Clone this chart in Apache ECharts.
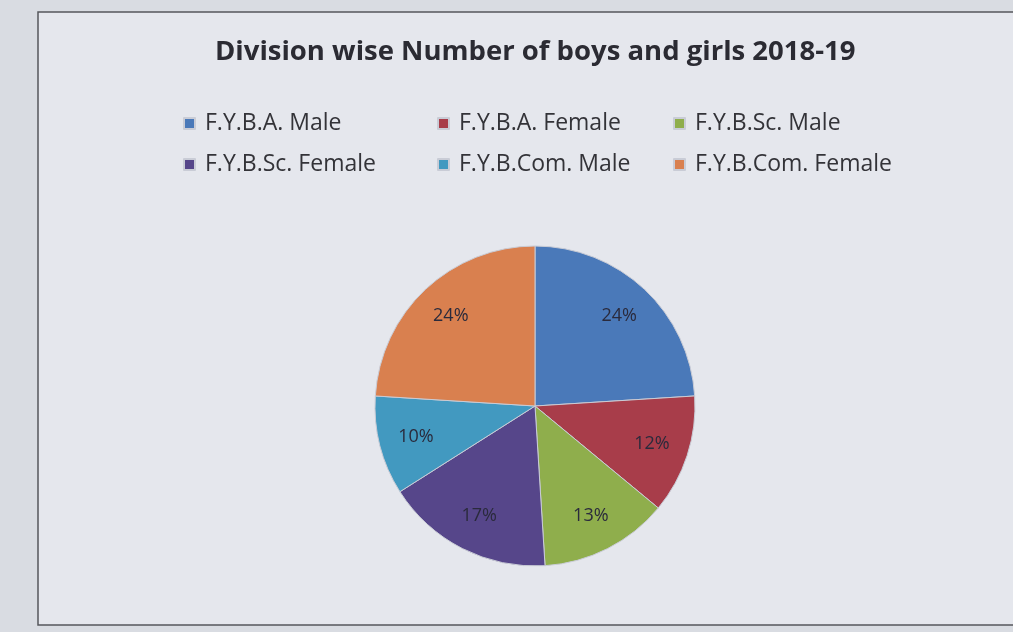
<!DOCTYPE html>
<html>
<head>
<meta charset="utf-8">
<script src="https://cdn.jsdelivr.net/npm/echarts@6/dist/echarts.min.js"></script>
<style>
  html, body { margin: 0; padding: 0; background: #d9dce2; }
  #chart { width: 1013px; height: 632px; }
</style>
</head>
<body>
<div id="chart"></div>
<script>
const categories = ['F.Y.B.A. Male', 'F.Y.B.A. Female', 'F.Y.B.Sc. Male',
  'F.Y.B.Sc. Female', 'F.Y.B.Com. Male', 'F.Y.B.Com. Female'];
const shares = [24, 12, 13, 17, 10, 24];
const colors = ['#4a79b9', '#a83d4a', '#8fae4c', '#56468a', '#4299c0', '#d9804f'];

document.addEventListener("DOMContentLoaded", () => {
  const font = 'Open Sans';
  const legendCol = (names, left) => ({
    orient: 'vertical',
    left: left,
    top: 107,
    itemGap: 18,
    itemWidth: 11,
    itemHeight: 11,
    icon: 'rect',
    data: names,
    textStyle: { fontFamily: font, fontSize: 23, color: '#333338', padding: [0, 0, 0, 5] }
  });
  const data = categories.map((name, i) => ({ name: name, value: shares[i] }));

  echarts.init(document.querySelector("#chart")).setOption({
    backgroundColor: '#d9dce2',
    color: colors,
    title: {
      text: 'Division wise Number of boys and girls 2018-19',
      left: 210,
      top: 33,
      textStyle: { fontFamily: font, fontSize: 27.5, fontWeight: 'bold', color: '#2b2b33' }
    },
    graphic: [{
      type: 'rect',
      z: -10,
      shape: { x: 38, y: 12, width: 1000, height: 613 },
      style: { fill: '#e5e7ed', stroke: '#55575c', lineWidth: 1.5 }
    }],
    legend: [
      legendCol([categories[0], categories[3]], 178),
      legendCol([categories[1], categories[4]], 432),
      legendCol([categories[2], categories[5]], 668)
    ],
    series: [{
      name: 'Division wise',
      type: 'pie',
      center: [535, 406],
      radius: 160,
      startAngle: 90,
      avoidLabelOverlap: false,
      itemStyle: { borderColor: '#c9ccd6', borderWidth: 1 },
      label: { show: false },
      labelLine: { show: false },
      emphasis: { scale: false },
      data: data
    }, {
      // label ring: same data, transparent, so labels sit further out
      name: 'labels',
      type: 'pie',
      center: [535, 406],
      radius: [80, 160],
      startAngle: 90,
      silent: true,
      avoidLabelOverlap: false,
      itemStyle: { color: 'rgba(0,0,0,0)', borderWidth: 0 },
      label: {
        show: true,
        position: 'inside',
        formatter: '{c}%',
        fontFamily: font,
        fontSize: 18,
        color: '#2a2a3c'
      },
      labelLine: { show: false },
      emphasis: { disabled: true },
      data: data
    }]
  });
});
</script>
</body>
</html>
